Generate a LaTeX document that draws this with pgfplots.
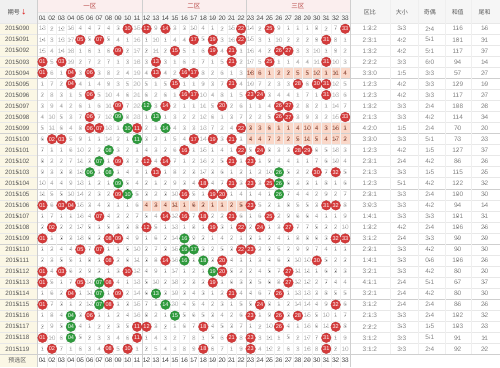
\documentclass[border=0pt]{standalone}
\usepackage{pgfplots}
\pgfplotsset{compat=1.18}
\usepackage{pgfplotstable}
\usepackage{fontspec}
\setmainfont{Liberation Sans}
\newfontfamily\cjk{Noto Sans CJK SC}
\definecolor{ballred}{HTML}{D43A3A}
\definecolor{ballgreen}{HTML}{2E9A3C}
\definecolor{graynum}{HTML}{B2B2B2}
\definecolor{shade}{HTML}{FAD8C9}
\definecolor{shadetxt}{HTML}{9C5240}
\definecolor{leftbg}{HTML}{FBF7E5}
\definecolor{hdrpink}{HTML}{FBEEEE}
\definecolor{hdrgray}{HTML}{F0F0F0}
\definecolor{colhdr}{HTML}{F6F6F6}
\definecolor{zonetxt}{HTML}{B94A48}
\definecolor{linec}{HTML}{E8E8E8}
\definecolor{linedark}{HTML}{CFCFCF}
\definecolor{stattxt}{HTML}{858585}
\newcommand\gl[1]{\if-#1\else#1\fi}

\pgfplotstableread{
r c1 c2 c3 c4 c5 c6 c7 c8 c9 c10 c11 c12 c13 c14 c15 c16 c17 c18 c19 c20 c21 c22 c23 c24 c25 c26 c27 c28 c29 c30 c31 c32 c33
0 13 2 12 16 4 4 7 4 3 - 15 - 9 - 3 3 10 4 1 2 15 - 14 2 - 9 1 1 1 8 2 7 -
1 14 3 13 17 - 5 - 5 4 1 16 1 10 1 4 4 - 5 - 3 16 - 15 3 1 10 2 2 2 9 - 8 1
2 15 4 14 18 1 6 1 6 - 2 17 2 11 2 - 5 1 6 - 4 - 1 16 4 2 - - 3 3 10 1 9 2
3 - 5 - 19 2 7 2 7 1 3 18 3 - 3 1 6 2 7 1 5 - 2 17 5 - 1 1 4 4 11 - 10 3
4 - 6 1 - 3 - 3 8 2 4 19 4 - 4 2 - - 8 2 6 1 3 - - - - - - - - - - -
5 1 7 2 - 4 1 4 9 3 5 20 5 1 5 - 1 1 9 3 7 - 4 19 7 2 3 3 - 6 - - 12 5
6 2 8 3 1 5 - 5 10 4 6 21 6 2 6 1 - - 10 4 8 1 5 - - 3 4 4 1 7 1 - 13 6
7 3 9 4 2 6 1 6 11 - 7 22 - 3 - 2 1 1 11 5 - 2 6 1 1 4 - - 2 8 2 1 14 7
8 4 10 5 3 7 - 7 12 - 8 23 1 - 1 3 2 2 12 6 1 3 7 2 2 5 - - 3 9 3 2 15 -
9 5 11 6 4 8 - - 13 1 - - 2 1 - 4 3 3 13 7 2 4 - - - - - - - - - - - -
10 6 - - 5 9 1 1 14 2 1 - 3 2 1 5 4 - 14 - 3 - 1 - - - - - - - - - - -
11 7 1 1 6 10 2 2 - 3 2 1 4 3 2 6 - 1 15 1 4 1 - 5 - 8 3 3 - - 6 5 18 3
12 8 2 2 7 11 3 - 1 - 3 2 - 4 - 7 1 2 16 2 5 - 1 - 1 9 4 4 1 1 7 6 19 4
13 9 3 3 8 12 - 1 - 1 4 3 1 - 1 8 2 3 17 3 6 1 2 1 2 10 - 5 2 2 - 7 - 5
14 10 4 4 9 13 1 2 1 - 5 4 2 1 2 9 3 4 - 4 7 - 3 - 3 - - 6 3 3 1 8 1 6
15 11 5 5 10 14 2 3 2 - - 5 3 2 3 10 - 5 1 - - 1 4 1 4 1 - 7 4 4 2 9 2 7
16 - 6 - - 15 3 4 3 1 1 6 - - - - - - - - - - - - 5 2 1 8 5 5 3 - - 8
17 1 7 1 1 16 4 - 4 2 2 7 5 4 - 12 - 7 - 2 2 - 6 1 6 - 2 9 6 6 4 1 1 9
18 2 - 2 2 17 5 1 5 3 3 8 - 5 1 13 1 8 1 - 3 1 - 2 - 1 3 - 7 7 5 2 2 10
19 - 1 3 3 18 6 2 - - 4 9 1 6 2 14 - 9 2 1 4 2 1 3 1 2 4 1 8 8 6 3 - -
20 1 2 4 4 - 7 - 1 1 5 10 2 7 3 15 - - 3 2 5 3 - - 2 3 5 2 9 9 7 4 1 1
21 2 3 5 5 1 8 1 - 2 6 11 3 8 - 16 - 1 - 3 - 4 1 1 3 4 6 3 10 10 - 5 2 2
22 - 4 - 6 2 9 2 1 3 - 12 4 9 1 17 1 2 1 - - 5 2 2 4 5 7 - 11 11 1 6 3 3
23 - 5 1 7 - 10 - - 4 1 13 5 10 2 18 2 3 2 - 1 6 3 3 5 6 8 - 12 12 2 7 4 4
24 1 6 2 - 1 11 - 1 - 2 14 6 - 3 19 3 4 3 1 2 - 4 4 6 7 - 1 13 13 3 8 5 5
25 - 7 3 1 2 12 - - 1 3 15 7 1 - 20 4 5 4 2 3 1 5 5 - 8 1 2 14 14 4 9 - 6
26 1 8 4 - 3 - 1 1 2 4 16 8 2 1 - 5 6 5 3 4 2 6 - 1 9 - 3 - 15 5 10 1 7
27 2 9 5 - 4 1 2 2 3 5 - - 3 2 1 6 7 - 4 5 3 7 1 2 10 - 4 1 16 6 11 - 8
28 - 10 6 - 5 2 3 3 4 6 - 1 4 3 2 7 8 1 5 6 - 8 - 3 11 1 5 2 17 7 - 1 9
29 1 - 7 1 6 3 4 - 5 - 1 2 5 4 3 8 9 - 6 7 1 9 - 4 12 2 6 3 18 8 - 2 10
}\omis

\pgfplotstableread{
x y l
23 4 18
24 4 6
25 4 1
26 4 2
27 4 2
28 4 5
29 4 5
30 4 12
31 4 1
32 4 11
33 4 4
23 9 3
24 9 3
25 9 6
26 9 1
27 9 1
28 9 4
29 9 10
30 9 4
31 9 3
32 9 16
33 9 1
23 10 4
24 10 4
25 10 7
26 10 2
27 10 2
28 10 5
29 10 11
30 10 5
31 10 4
32 10 17
33 10 2
12 16 4
13 16 3
14 16 4
15 16 11
16 16 1
17 16 6
18 16 2
19 16 1
20 16 1
21 16 2
22 16 5
}\shaded

\pgfplotstableread{
x y l
10 0 10
12 0 12
14 0 14
22 0 22
25 0 25
33 0 33
5 1 05
7 1 07
17 1 17
19 1 19
22 1 22
31 1 31
9 2 09
15 2 15
19 2 19
21 2 21
26 2 26
27 2 27
1 3 01
3 3 03
13 3 13
21 3 21
25 3 25
31 3 31
1 4 01
4 4 04
6 4 06
13 4 13
16 4 16
17 4 17
4 5 04
15 5 15
21 5 21
28 5 28
30 5 30
31 5 31
6 6 06
16 6 16
17 6 17
23 6 23
24 6 24
31 6 31
9 7 09
14 7 14
20 7 20
26 7 26
27 7 27
6 8 06
26 8 26
27 8 27
33 8 33
6 9 06
7 9 07
11 9 11
22 9 22
2 10 02
3 10 03
17 10 17
19 10 19
21 10 21
16 11 16
22 11 22
24 11 24
28 11 28
29 11 29
9 12 09
12 12 12
14 12 14
21 12 21
23 12 23
13 13 13
30 13 30
32 13 32
18 14 18
21 14 21
23 14 23
25 14 25
9 15 09
16 15 16
19 15 19
20 15 20
1 16 01
3 16 03
4 16 04
23 16 23
31 16 31
32 16 32
7 17 07
14 17 14
16 17 16
18 17 18
21 17 21
25 17 25
2 18 02
12 18 12
19 18 19
22 18 22
24 18 24
27 18 27
1 19 01
8 19 08
9 19 09
32 19 32
33 19 33
5 20 05
7 20 07
22 20 22
23 20 23
8 21 08
14 21 14
20 21 20
30 21 30
1 22 01
3 22 03
10 22 10
20 22 20
27 22 27
1 23 01
5 23 05
8 23 08
19 23 19
27 23 27
4 24 04
9 24 09
21 24 21
26 24 26
1 25 01
8 25 08
24 25 24
32 25 32
6 26 06
23 26 23
26 26 26
28 26 28
11 27 11
12 27 12
18 27 18
26 27 26
32 27 32
1 28 01
11 28 11
21 28 21
23 28 23
31 28 31
2 29 02
8 29 08
10 29 10
18 29 18
23 29 23
31 29 31
}\redballs

\pgfplotstableread{
x y l
12 7 12
9 8 09
13 8 13
10 9 10
14 9 14
11 10 11
8 11 08
7 12 07
6 13 06
8 13 08
26 13 26
9 14 09
26 14 26
10 15 10
26 15 26
16 19 16
16 20 16
17 20 17
16 21 16
18 21 18
19 22 19
7 23 07
7 24 07
13 24 13
7 25 07
14 25 14
4 26 04
15 26 15
4 27 04
4 28 04
}\greenballs

\pgfplotstableread{
r lab qb dx jo hz wh
0 2015090 1:3:2 3:3 2:4 116 16
1 2015091 2:3:1 4:2 5:1 101 31
2 2015092 1:3:2 4:2 5:1 117 37
3 2015093 2:2:2 3:3 6:0 94 14
4 2015094 3:3:0 1:5 3:3 57 27
5 2015095 1:2:3 4:2 3:3 129 19
6 2015096 1:2:3 4:2 3:3 117 27
7 2015097 1:3:2 3:3 2:4 108 28
8 2015098 2:1:3 3:3 4:2 114 34
9 2015099 4:2:0 1:5 2:4 70 20
10 2015100 3:3:0 3:3 5:1 73 23
11 2015101 1:2:3 4:2 1:5 127 37
12 2015102 2:3:1 2:4 4:2 86 26
13 2015103 2:1:3 3:3 1:5 115 25
14 2015104 1:2:3 5:1 4:2 122 32
15 2015105 2:3:1 3:3 2:4 100 30
16 2015106 3:0:3 3:3 4:2 94 14
17 2015107 1:4:1 3:3 3:3 101 31
18 2015108 1:3:2 4:2 2:4 106 26
19 2015109 3:1:2 2:4 3:3 99 29
20 2015110 2:3:1 3:3 4:2 90 30
21 2015111 1:4:1 3:3 0:6 106 26
22 2015112 3:2:1 3:3 4:2 80 20
23 2015113 4:1:1 2:4 5:1 67 37
24 2015114 3:2:1 2:4 4:2 80 30
25 2015115 3:1:2 2:4 2:4 86 26
26 2015116 2:1:3 3:3 2:4 102 32
27 2015117 2:2:2 3:3 1:5 103 23
28 2015118 3:1:2 3:3 5:1 91 11
29 2015119 3:1:2 3:3 2:4 92 22
}\stats

\pgfplotstableread{
x l
1 01
2 02
3 03
4 04
5 05
6 06
7 07
8 08
9 09
10 10
11 11
12 12
13 13
14 14
15 15
16 16
17 17
18 18
19 19
20 20
21 21
22 22
23 23
24 24
25 25
26 26
27 27
28 28
29 29
30 30
31 31
32 32
33 33
}\colnums

\pgfplotsset{
  txt/.style={only marks, mark=*, mark size=0.1pt, mark options={draw=none,fill=none},
    point meta=explicit symbolic, nodes near coords={\gl{\pgfplotspointmeta}},
    nodes near coords align=center,
    every node near coord/.append style={inner sep=0pt, anchor=center}},
  balls/.style={only marks, mark=*, mark size=4.85pt,
    point meta=explicit symbolic, nodes near coords, nodes near coords align=center,
    every node near coord/.append style={inner sep=0pt, anchor=center, text=white,
      font=\fontsize{5.6}{6}\selectfont}},
}

\begin{document}
\begin{tikzpicture}
\begin{axis}[
  width=500bp, height=367bp, scale only axis,
  xmin=-3.460, xmax=49.338, ymin=-2.579, ymax=30.633, y dir=reverse,
  hide axis, clip=false,
]
% backgrounds
\fill[hdrgray] (axis cs:-3.460,-2.579) rectangle (axis cs:0.5,-0.5);
\fill[hdrpink] (axis cs:0.5,-2.579) rectangle (axis cs:33.5,-1.448);
\fill[colhdr] (axis cs:0.5,-1.448) rectangle (axis cs:33.5,-0.5);
\fill[colhdr] (axis cs:33.5,-2.579) rectangle (axis cs:49.338,-0.5);
\fill[leftbg] (axis cs:-3.460,-0.5) rectangle (axis cs:0.5,30.633);
\addplot[fill=shade, draw=none] coordinates {(22.5,3.5) (33.5,3.5) (33.5,4.5) (22.5,4.5)} -- cycle;
\addplot[fill=shade, draw=none] coordinates {(22.5,8.5) (33.5,8.5) (33.5,10.5) (22.5,10.5)} -- cycle;
\addplot[fill=shade, draw=none] coordinates {(11.5,15.5) (22.5,15.5) (22.5,16.5) (11.5,16.5)} -- cycle;
% grid lines
\pgfplotsinvokeforeach{-0.5,0.5,1.5,2.5,3.5,5.5,6.5,7.5,8.5,10.5,11.5,12.5,13.5,15.5,16.5,17.5,18.5,20.5,21.5,22.5,23.5,25.5,26.5,27.5,28.5}{
  \draw[linec, line width=0.6pt] (axis cs:-3.460,#1) -- (axis cs:49.338,#1);
}
\pgfplotsinvokeforeach{4.5,9.5,14.5,19.5,24.5,29.5}{
  \draw[linedark, line width=0.6pt] (axis cs:-3.460,#1) -- (axis cs:49.338,#1);
}
\draw[linec, line width=0.6pt] (axis cs:0.5,-1.448) -- (axis cs:33.5,-1.448);
\pgfplotsinvokeforeach{1.5,2.5,3.5,4.5,5.5,6.5,7.5,8.5,9.5,10.5,12.5,13.5,14.5,15.5,16.5,17.5,18.5,19.5,20.5,21.5,23.5,24.5,25.5,26.5,27.5,28.5,29.5,30.5,31.5,32.5}{
  \draw[linec!60!white, line width=0.5pt] (axis cs:#1,-1.448) -- (axis cs:#1,30.633);
}
\pgfplotsinvokeforeach{37.72,40.68,43.53,46.38}{
  \draw[linec!70!white, line width=0.5pt] (axis cs:#1,-2.579) -- (axis cs:#1,29.5);
}
\pgfplotsinvokeforeach{0.5,11.5,22.5,33.5}{
  \draw[linedark, line width=0.6pt] (axis cs:#1,-2.579) -- (axis cs:#1,30.633);
}
% omission numbers
\pgfplotsinvokeforeach{1,...,33}{
  \addplot[txt, every node near coord/.append style={text=graynum, font=\fontsize{6.5}{7}\selectfont}]
    table[x expr=#1, y=r, meta=c#1] {\omis};
}
\addplot[txt, every node near coord/.append style={text=shadetxt, font=\fontsize{6.5}{7}\selectfont}]
  table[x=x, y=y, meta=l] {\shaded};
% balls
\addplot[balls, mark options={fill=ballred, draw=ballred!88!black, line width=0.3pt}]
  table[x=x, y=y, meta=l] {\redballs};
\addplot[balls, mark options={fill=ballgreen, draw=ballgreen!88!black, line width=0.3pt}]
  table[x=x, y=y, meta=l] {\greenballs};
% row labels and stats
\addplot[txt, every node near coord/.append style={text=black!65, font=\fontsize{6.3}{7}\selectfont}]
  table[x expr=-1.665, y=r, meta=lab] {\stats};
\addplot[txt, every node near coord/.append style={text=stattxt, font=\fontsize{6.5}{7}\selectfont}]
  table[x expr=35.61, y=r, meta=qb] {\stats};
\addplot[txt, every node near coord/.append style={text=stattxt, font=\fontsize{6.5}{7}\selectfont}]
  table[x expr=38.99, y=r, meta=dx] {\stats};
\addplot[txt, every node near coord/.append style={text=stattxt, font=\fontsize{6.5}{7}\selectfont}]
  table[x expr=41.95, y=r, meta=jo] {\stats};
\addplot[txt, every node near coord/.append style={text=stattxt, font=\fontsize{6.5}{7}\selectfont}]
  table[x expr=44.90, y=r, meta=hz] {\stats};
\addplot[txt, every node near coord/.append style={text=stattxt, font=\fontsize{6.5}{7}\selectfont}]
  table[x expr=47.75, y=r, meta=wh] {\stats};
% column numbers
\addplot[txt, every node near coord/.append style={text=black!70, font=\fontsize{6.5}{7}\selectfont}]
  table[x=x, y expr=-0.95, meta=l] {\colnums};
\addplot[txt, every node near coord/.append style={text=black!70, font=\fontsize{6.5}{7}\selectfont}]
  table[x=x, y expr=30.05, meta=l] {\colnums};
% header texts
\node[font=\cjk\fontsize{6}{7}\selectfont, text=black!75] at (axis cs:-1.665,-1.49) {期号\,\textcolor{red!85!black}{↓}};
\node[font=\cjk\fontsize{6.5}{7}\selectfont, text=zonetxt] at (axis cs:6,-2.03) {一区};
\node[font=\cjk\fontsize{6.5}{7}\selectfont, text=zonetxt] at (axis cs:17,-2.03) {二区};
\node[font=\cjk\fontsize{6.5}{7}\selectfont, text=zonetxt] at (axis cs:28,-2.03) {三区};
\node[font=\cjk\fontsize{6}{7}\selectfont, text=black!65] at (axis cs:35.61,-1.49) {区比};
\node[font=\cjk\fontsize{6}{7}\selectfont, text=black!65] at (axis cs:38.99,-1.49) {大小};
\node[font=\cjk\fontsize{6}{7}\selectfont, text=black!65] at (axis cs:41.95,-1.49) {奇偶};
\node[font=\cjk\fontsize{6}{7}\selectfont, text=black!65] at (axis cs:44.90,-1.49) {和值};
\node[font=\cjk\fontsize{6}{7}\selectfont, text=black!65] at (axis cs:47.75,-1.49) {尾和};
\node[font=\cjk\fontsize{6}{7}\selectfont, text=black!65] at (axis cs:-1.665,30.05) {预选区};
\end{axis}
\end{tikzpicture}
\end{document}
